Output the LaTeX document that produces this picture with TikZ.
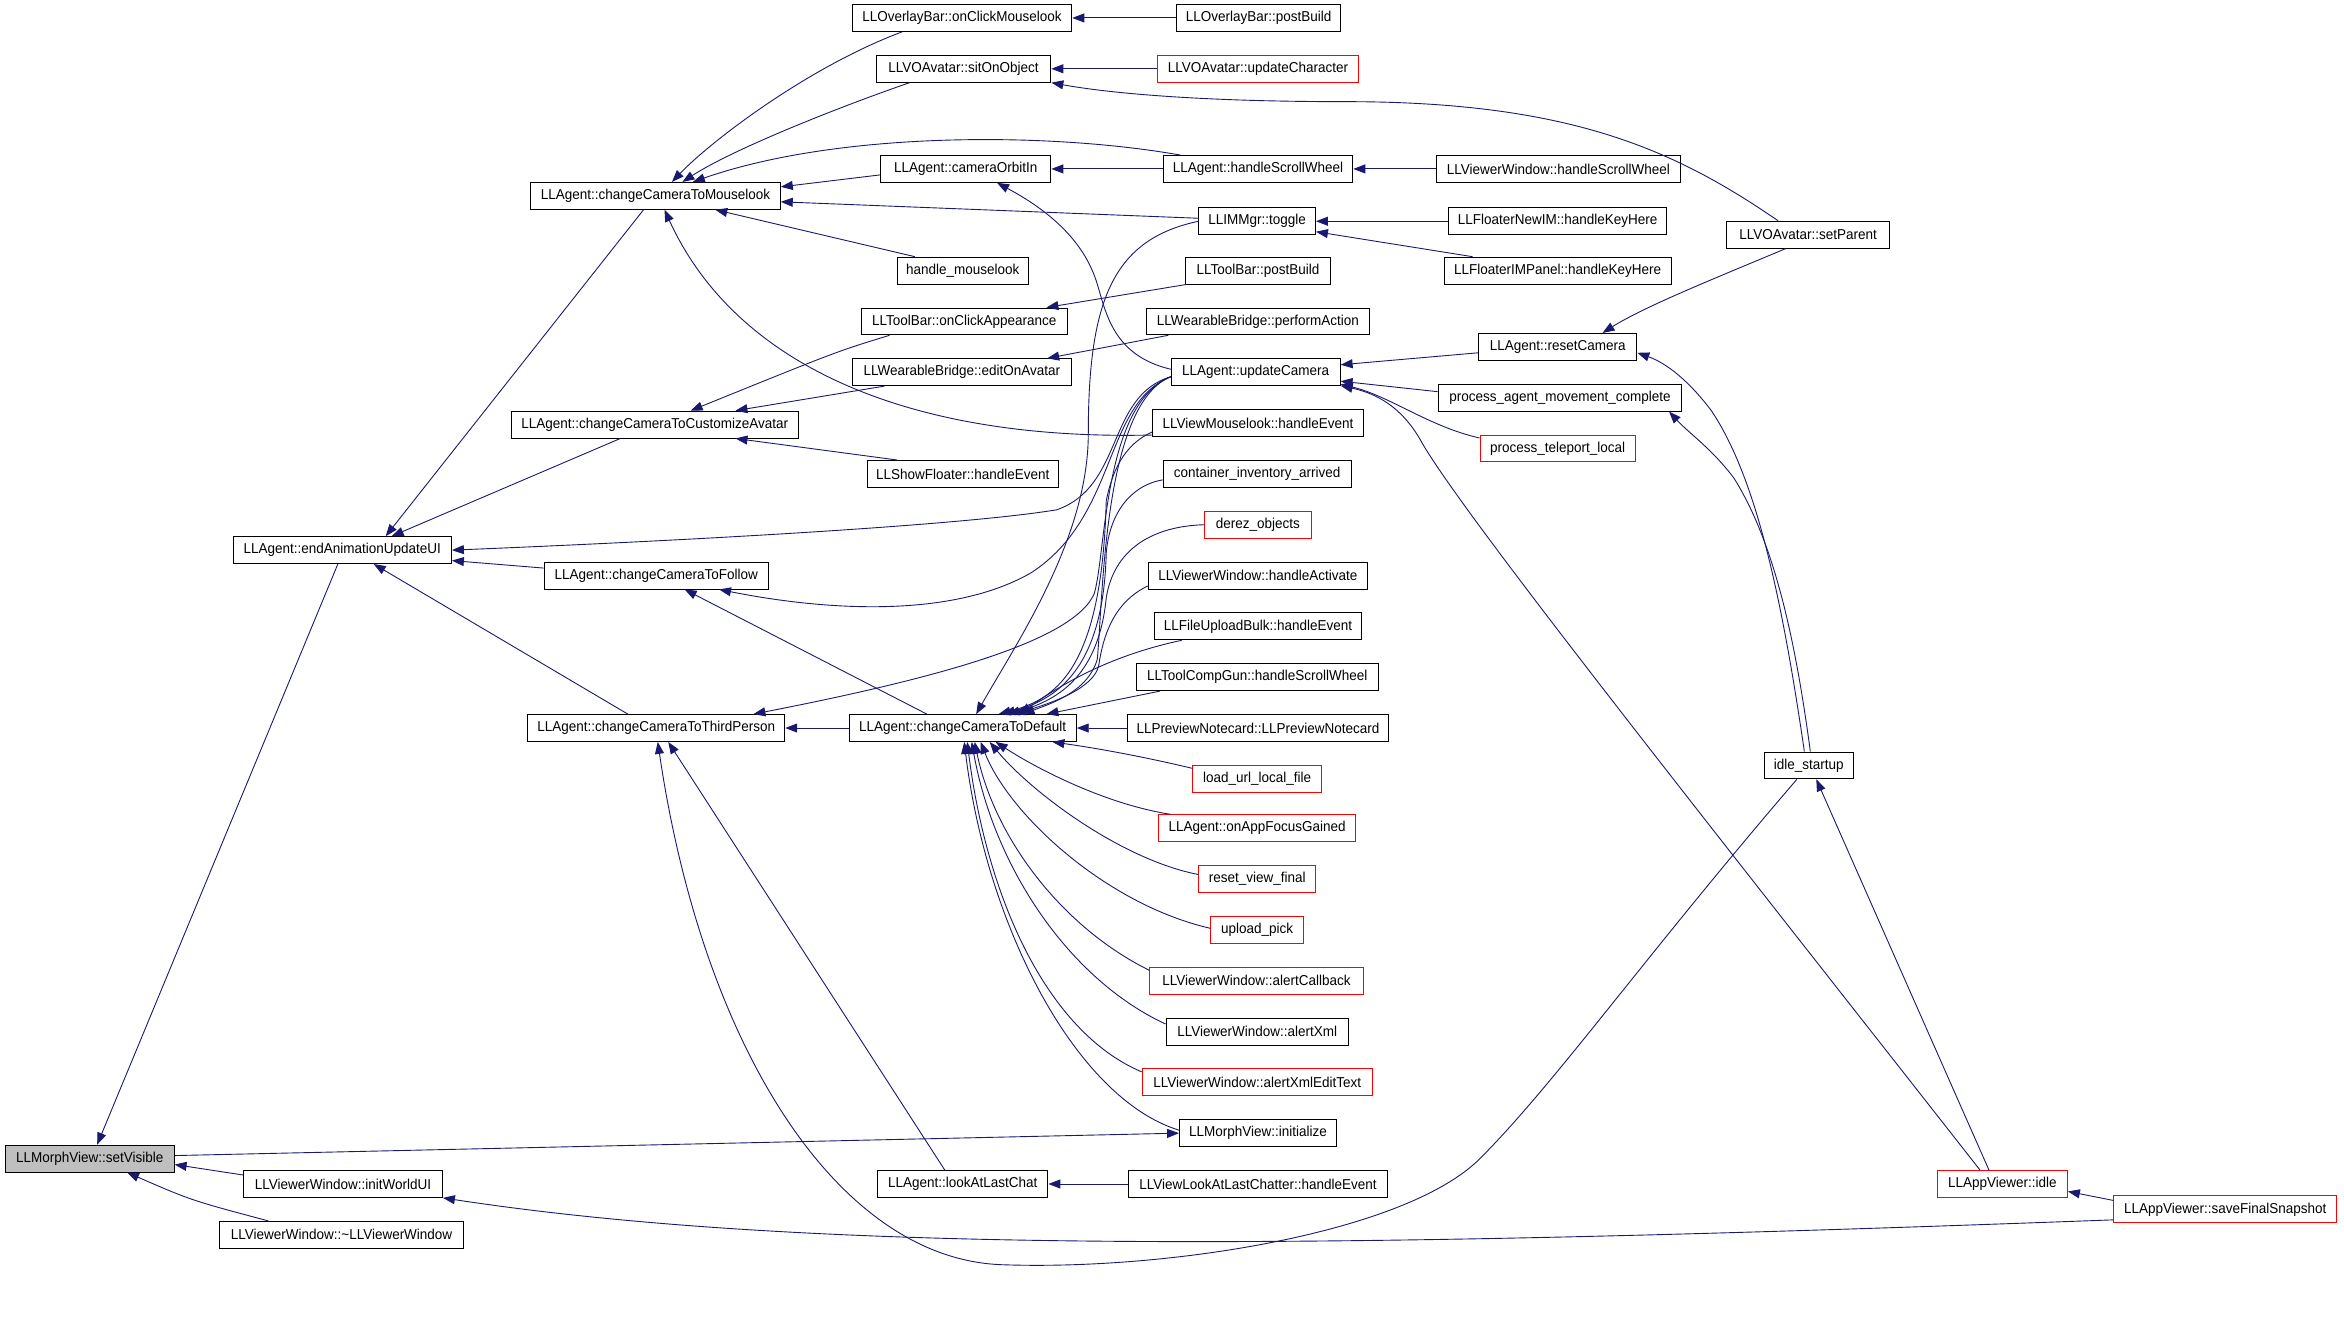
\documentclass[tikz,border=0pt]{standalone}
\usepackage{fontspec}
\newfontfamily\fnt{Liberation Sans}[FakeStretch=0.94]
\usetikzlibrary{arrows.meta}
\definecolor{eblue}{HTML}{191970}
\definecolor{gfill}{HTML}{BFBFBF}
\begin{document}
\begin{tikzpicture}[x=1pt,y=-1pt,
  fn/.style={draw=black, line width=0.6pt, minimum height=18pt, inner sep=0pt, font=\fnt\fontsize{9.6}{10}\selectfont, anchor=center},
  rd/.style={draw=red},
  ed/.style={draw=eblue, line width=0.6pt, -{Triangle[length=8pt,width=6pt]}, fill=none}]
\useasboundingbox[fill=white] (0,0) rectangle (1568,884);
% nodes
\node[fn, fill=gfill, minimum width=113pt] (sv) at (60,775) {LLMorphView::setVisible};
\node[fn, minimum width=133pt] (iwu) at (229.5,792) {LLViewerWindow::initWorldUI};
\node[fn, minimum width=163pt] (dvw) at (228.5,826) {LLViewerWindow::\textasciitilde LLViewerWindow};
\node[fn, minimum width=146pt] (eau) at (229,368) {LLAgent::endAnimationUpdateUI};
\node[fn, minimum width=167pt] (mlk) at (438.5,131) {LLAgent::changeCameraToMouselook};
\node[fn, minimum width=192pt] (cca) at (438,284) {LLAgent::changeCameraToCustomizeAvatar};
\node[fn, minimum width=150pt] (fol) at (439,385) {LLAgent::changeCameraToFollow};
\node[fn, minimum width=172pt] (tp) at (439,487) {LLAgent::changeCameraToThirdPerson};
\node[fn, minimum width=147pt] (ocm) at (643.5,12) {LLOverlayBar::onClickMouselook};
\node[fn, minimum width=110pt] (opb) at (842,12) {LLOverlayBar::postBuild};
\node[fn, minimum width=117pt] (soo) at (644.5,46) {LLVOAvatar::sitOnObject};
\node[fn, rd, minimum width=135pt] (uch) at (841.5,46) {LLVOAvatar::updateCharacter};
\node[fn, minimum width=114pt] (coi) at (646,113) {LLAgent::cameraOrbitIn};
\node[fn, minimum width=127pt] (ahs) at (841.5,113) {LLAgent::handleScrollWheel};
\node[fn, minimum width=163pt] (vhs) at (1042.5,113) {LLViewerWindow::handleScrollWheel};
\node[fn, minimum width=78pt] (tog) at (841,148) {LLIMMgr::toggle};
\node[fn, minimum width=146pt] (fni) at (1042,148) {LLFloaterNewIM::handleKeyHere};
\node[fn, minimum width=152pt] (fip) at (1042,181) {LLFloaterIMPanel::handleKeyHere};
\node[fn, minimum width=88pt] (hml) at (644,181) {handle\_mouselook};
\node[fn, minimum width=97pt] (tpb) at (841.5,181) {LLToolBar::postBuild};
\node[fn, minimum width=138pt] (oca) at (645,215) {LLToolBar::onClickAppearance};
\node[fn, minimum width=149pt] (wpa) at (841.5,215) {LLWearableBridge::performAction};
\node[fn, minimum width=147pt] (eoa) at (643.5,249) {LLWearableBridge::editOnAvatar};
\node[fn, minimum width=113pt] (upd) at (840,249) {LLAgent::updateCamera};
\node[fn, minimum width=106pt] (rsc) at (1042,232) {LLAgent::resetCamera};
\node[fn, minimum width=163pt] (pam) at (1043.5,266) {process\_agent\_movement\_complete};
\node[fn, rd, minimum width=104pt] (ptl) at (1042,300) {process\_teleport\_local};
\node[fn, minimum width=109pt] (spa) at (1209.5,157) {LLVOAvatar::setParent};
\node[fn, minimum width=141pt] (vml) at (841.5,283) {LLViewMouselook::handleEvent};
\node[fn, minimum width=128pt] (shf) at (644,317) {LLShowFloater::handleEvent};
\node[fn, minimum width=126pt] (cia) at (841,317) {container\_inventory\_arrived};
\node[fn, rd, minimum width=71pt] (dez) at (841.5,351) {derez\_objects};
\node[fn, minimum width=147pt] (vha) at (841.5,385) {LLViewerWindow::handleActivate};
\node[fn, minimum width=139pt] (fub) at (841.5,419) {LLFileUploadBulk::handleEvent};
\node[fn, minimum width=162pt] (tcg) at (841,453) {LLToolCompGun::handleScrollWheel};
\node[fn, minimum width=152pt] (def) at (644,487) {LLAgent::changeCameraToDefault};
\node[fn, minimum width=175pt] (pnc) at (841.5,487) {LLPreviewNotecard::LLPreviewNotecard};
\node[fn, rd, minimum width=86pt] (lul) at (841,521) {load\_url\_local\_file};
\node[fn, rd, minimum width=132pt] (afg) at (841,554) {LLAgent::onAppFocusGained};
\node[fn, rd, minimum width=78pt] (rvf) at (841,588) {reset\_view\_final};
\node[fn, rd, minimum width=62pt] (upk) at (841,622) {upload\_pick};
\node[fn, rd, minimum width=143pt] (acb) at (840.5,656) {LLViewerWindow::alertCallback};
\node[fn, minimum width=122pt] (axm) at (841,690) {LLViewerWindow::alertXml};
\node[fn, rd, minimum width=154pt] (axe) at (841,724) {LLViewerWindow::alertXmlEditText};
\node[fn, minimum width=105pt] (mvi) at (841.5,758) {LLMorphView::initialize};
\node[fn, minimum width=114pt] (lal) at (644,792) {LLAgent::lookAtLastChat};
\node[fn, minimum width=173pt] (vlc) at (841.5,792) {LLViewLookAtLastChatter::handleEvent};
\node[fn, minimum width=60pt] (ids) at (1210,512) {idle\_startup};
\node[fn, rd, minimum width=87pt] (aid) at (1339.5,792) {LLAppViewer::idle};
\node[fn, rd, minimum width=149pt] (sfs) at (1488.5,809) {LLAppViewer::saveFinalSnapshot};
% edges into setVisible
\draw[ed] ([xshift=-3pt]eau.south) -- ([xshift=5pt]sv.north);
\draw[ed] ([yshift=6pt]iwu.west) -- ([yshift=-4pt]sv.east);
\draw[ed] ([xshift=-49pt]dvw.north) .. controls (128,803) .. ([xshift=25pt]sv.south);
\draw[ed] ([yshift=2pt]sv.east) -- (mvi.west);
% into endAnimationUpdateUI
\draw[ed] ([xshift=-8pt]mlk.south) -- ([xshift=29pt]eau.north);
\draw[ed] ([xshift=-23pt]cca.south) -- ([xshift=33pt]eau.north);
\draw[ed] ([yshift=5pt]fol.west) -- ([yshift=-7pt]eau.east);
\draw[ed] ([xshift=-19pt]tp.north) -- ([xshift=21pt]eau.south);
\draw[ed] ([yshift=-3pt]upd.west) .. controls (740,265) and (752,325) .. (707,341) .. controls (640,352) and (450,362) .. (eau.east);
% from updateCamera
\draw[ed] ([yshift=-3pt]upd.west) .. controls (738,270) and (748,345) .. (690,383) .. controls (640,412) and (560,410) .. ([xshift=42pt]fol.south);
\draw[ed] ([yshift=-3pt]upd.west) .. controls (738,270) and (740,370) .. (732,397) .. controls (718,430) and (620,455) .. ([xshift=65pt]tp.north);
\draw[ed] ([yshift=-3pt]upd.west) .. controls (738,270) and (738,400) .. (734,441) .. controls (728,462) and (705,470) .. ([xshift=40pt]def.north);
\draw[ed] ([yshift=2pt]upd.west) .. controls (745,238) and (740,210) .. (734,190) .. controls (725,160) and (700,140) .. ([xshift=21pt]coi.south);
% into changeCameraToMouselook
\draw[ed] ([xshift=-40pt]ocm.south) .. controls (540,45) and (475,95) .. ([xshift=11pt]mlk.north);
\draw[ed] ([xshift=-36pt]soo.south) .. controls (560,72) and (490,100) .. ([xshift=18pt]mlk.north);
\draw[ed] ([xshift=-52pt]ahs.north) .. controls (700,88) and (560,88) .. ([xshift=25pt]mlk.north);
\draw[ed] ([yshift=-4pt]coi.west) -- ([yshift=6pt]mlk.east);
\draw[ed] ([yshift=2pt]tog.west) -- ([yshift=-4pt]mlk.east);
\draw[ed] ([xshift=-32pt]hml.north) -- ([xshift=40pt]mlk.south);
\draw[ed] ([yshift=-8pt]vml.west) .. controls (600,295) and (490,240) .. ([xshift=6pt]mlk.south);
% top area
\draw[ed] (opb.west) -- (ocm.east);
\draw[ed] (uch.west) -- (soo.east);
\draw[ed] ([xshift=-20pt]spa.north) .. controls (1120,100) and (1050,68) .. (900,68) .. controls (800,68) and (740,62) .. (soo.south east);
\draw[ed] (ahs.west) -- (coi.east);
\draw[ed] (vhs.west) -- (ahs.east);
\draw[ed] (fni.west) -- (tog.east);
\draw[ed] ([xshift=-57pt]fip.north) -- ([yshift=-7pt]tog.east);
\draw[ed] (tog.west) .. controls (745,160) and (728,200) .. (728,290) .. controls (728,360) and (680,430) .. ([xshift=9pt]def.north);
\draw[ed] ([xshift=-48pt]tpb.south) -- ([xshift=55pt]oca.north);
\draw[ed] ([xshift=-60pt]wpa.south) -- ([xshift=57pt]eoa.north);
\draw[ed] ([xshift=-50pt]oca.south) .. controls (560,235) .. ([xshift=24pt]cca.north);
\draw[ed] ([xshift=-52pt]eoa.south) -- ([xshift=54pt]cca.north);
\draw[ed] ([xshift=-44pt]shf.north) -- ([xshift=54pt]cca.south);
% into updateCamera
\draw[ed] ([yshift=-4pt]rsc.west) -- ([yshift=5pt]upd.east);
\draw[ed] ([yshift=4pt]pam.west) -- ([yshift=-6pt]upd.east);
\draw[ed] ([yshift=7pt]ptl.west) .. controls (955,285) and (930,265) .. ([yshift=-8pt]upd.east);
\draw[ed] ([xshift=-15pt]aid.north) .. controls (1150,560) and (975,340) .. (950,294) .. controls (935,268) and (915,262) .. ([yshift=-9pt]upd.east);
% right side
\draw[ed] ([xshift=-15pt]spa.south) .. controls (1150,185) and (1100,205) .. ([xshift=30pt]rsc.north);
\draw[ed] ([xshift=-3pt]ids.north) .. controls (1192,400) and (1175,320) .. (1145,275) .. controls (1130,255) and (1115,243) .. ([yshift=-4pt]rsc.east);
\draw[ed] ([xshift=1pt]ids.north) .. controls (1200,420) and (1185,360) .. (1160,320) .. controls (1145,300) and (1130,290) .. ([xshift=73pt]pam.south);
\draw[ed] ([xshift=-9pt]aid.north) -- ([xshift=5pt]ids.south);
\draw[ed] ([yshift=6pt]sfs.west) -- ([yshift=-5pt]aid.east);
\draw[ed] ([yshift=-7pt]sfs.west) .. controls (900,835) and (550,840) .. (iwu.south east);
\draw[ed] ([xshift=-8pt]ids.south) .. controls (1100,640) and (1040,725) .. (990,775) .. controls (940,825) and (780,850) .. (670,846) .. controls (560,842) and (470,700) .. ([xshift=1pt]tp.south);
% ThirdPerson / Follow
\draw[ed] ([xshift=-12pt]lal.north) -- ([xshift=8pt]tp.south);
\draw[ed] (def.west) -- (tp.east);
\draw[ed] ([xshift=-24pt]def.north) -- ([xshift=19pt]fol.south);
\draw[ed] (vlc.west) -- (lal.east);
% into changeCameraToDefault (top / right)
\draw[ed] (pnc.west) -- (def.east);
\draw[ed] ([xshift=-65pt]tcg.south) -- ([xshift=56pt]def.north);
\draw[ed] ([xshift=-51pt]fub.south) .. controls (750,437) and (718,452) .. ([xshift=38pt]def.north);
\draw[ed] ([yshift=-7pt]vha.west) .. controls (745,403) and (738,425) .. (735,445) .. controls (732,460) and (705,470) .. ([xshift=34pt]def.north);
\draw[ed] (dez.west) .. controls (770,352) and (745,368) .. (740,400) .. controls (735,450) and (710,468) .. ([xshift=30pt]def.north);
\draw[ed] ([yshift=-4pt]cia.west) .. controls (755,325) and (742,345) .. (740,370) .. controls (738,450) and (705,468) .. ([xshift=27pt]def.north);
\draw[ed] ([yshift=-6pt]vml.west) .. controls (755,296) and (745,310) .. (740,335) .. controls (737,450) and (705,468) .. ([xshift=24pt]def.north);
% into changeCameraToDefault (bottom fan)
\draw[ed] ([yshift=7pt]lul.west) .. controls (760,505) and (730,500) .. ([xshift=60pt]def.south);
\draw[ed] ([xshift=-58pt]afg.north) .. controls (740,538) and (695,515) .. ([xshift=22pt]def.south);
\draw[ed] ([yshift=3pt]rvf.west) .. controls (750,575) and (690,530) .. ([xshift=18pt]def.south);
\draw[ed] ([yshift=1pt]upk.west) .. controls (740,605) and (675,545) .. ([xshift=12pt]def.south);
\draw[ed] ([yshift=7pt]acb.west) .. controls (710,620) and (665,560) .. ([xshift=8pt]def.south);
\draw[ed] ([yshift=5pt]axm.west) .. controls (715,655) and (665,580) .. ([xshift=6pt]def.south);
\draw[ed] ([yshift=7pt]axe.west) .. controls (700,690) and (660,600) .. ([xshift=3pt]def.south);
\draw[ed] ([yshift=2pt]mvi.west) .. controls (720,735) and (660,620) .. ([xshift=1pt]def.south);
\end{tikzpicture}
\end{document}
